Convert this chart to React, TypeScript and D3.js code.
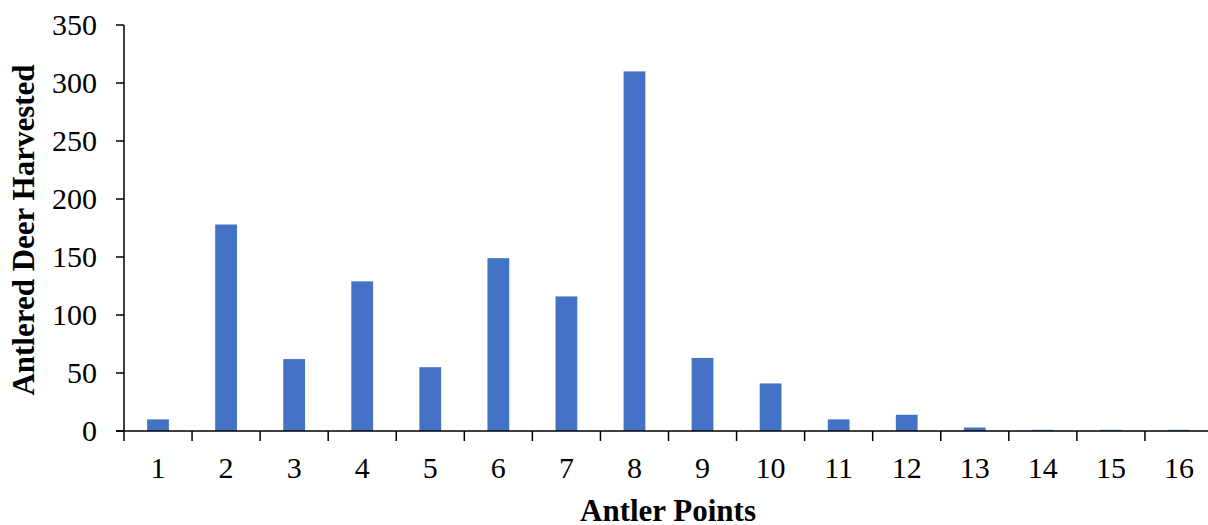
import React from "react";
import * as d3 from "d3";

const categories = ["1","2","3","4","5","6","7","8","9","10","11","12","13","14","15","16"];
const values = [10, 178, 62, 129, 55, 149, 116, 310, 63, 41, 10, 14, 3, 1, 1, 1];
const yTicks = [0, 50, 100, 150, 200, 250, 300, 350];

export default function App() {
  const W = 1208, H = 525;
  const left = 124, right = 1213, top = 25, bottom = 431;
  const x = d3.scaleBand().domain(categories).range([left, right]).paddingInner(0.68).paddingOuter(0.34);
  const xb = d3.scaleBand().domain(categories).range([left, right]);
  const y = d3.scaleLinear().domain([0, 350]).range([bottom, top]);
  const font = "'Liberation Serif', 'Times New Roman', serif";
  return (
    <svg width={W} height={H} style={{ position: "absolute", left: 0, top: 0 }}>
      <rect width={W} height={H} fill="#fff" />
      {categories.map((c, i) => (
        <rect key={c} x={x(c)} y={y(values[i])} width={x.bandwidth()} height={y(0) - y(values[i])} fill="#4472C4" />
      ))}
      <line x1={left} x2={left} y1={top} y2={bottom} stroke="#000" strokeWidth={1.5} />
      <line x1={left - 8} x2={right} y1={bottom} y2={bottom} stroke="#000" strokeWidth={1.5} />
      {yTicks.map(t => (
        <g key={t}>
          <line x1={left - 8} x2={left} y1={y(t)} y2={y(t)} stroke="#000" strokeWidth={1.5} />
          <text x={left - 27} y={y(t)} dy="0.33em" textAnchor="end" fontFamily={font} fontSize={30}>{t}</text>
        </g>
      ))}
      {categories.map(c => (
        <g key={c}>
          <line x1={xb(c)!} x2={xb(c)!} y1={bottom} y2={bottom + 10} stroke="#000" strokeWidth={1.5} />
          <text x={xb(c)! + xb.bandwidth() / 2} y={478} textAnchor="middle" fontFamily={font} fontSize={30}>{c}</text>
        </g>
      ))}
      <text x={668} y={521} textAnchor="middle" fontFamily={font} fontSize={31} fontWeight="bold">Antler Points</text>
      <text transform={`translate(34, 230) rotate(-90)`} textAnchor="middle" fontFamily={font} fontSize={31} fontWeight="bold">Antlered Deer Harvested</text>
    </svg>
  );
}
